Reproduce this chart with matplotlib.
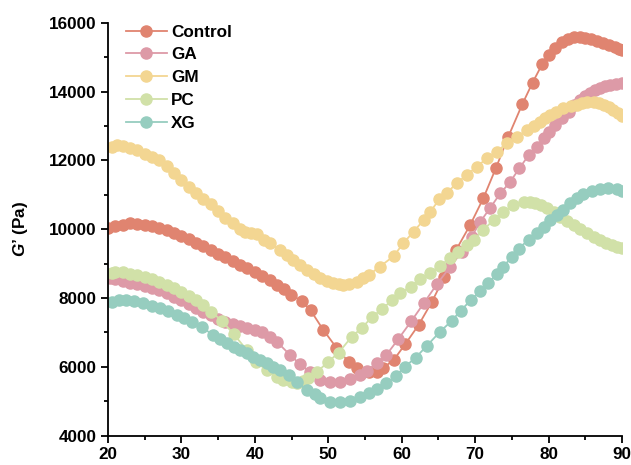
import matplotlib
matplotlib.use("Agg")
import matplotlib.pyplot as plt
from matplotlib.ticker import MultipleLocator

plt.rcParams['font.family'] = ['Liberation Sans', 'DejaVu Sans']
plt.rcParams['mathtext.fontset'] = 'custom'
plt.rcParams['mathtext.it'] = 'Liberation Sans:italic:bold'
plt.rcParams['mathtext.rm'] = 'Liberation Sans:bold'

labels = ["Control", "GA", "GM", "PC", "XG"]
colors = ["#E08470", "#DD9AA7", "#F3D692", "#D1E1A8", "#96CDBF"]

control_x = [20, 21, 22, 23, 24, 25, 26, 27, 28, 29, 30, 31, 32, 33, 34, 35, 36, 37, 38, 39, 40, 41, 42, 43, 44,
             44.9, 46.4, 47.6, 49.3, 51.1, 52.8, 53.9, 55.5, 56.6, 57.4, 58.9, 60.5, 62.3, 64.1, 65.8, 67.4,
             69.3, 71.1, 72.8, 74.5, 76.4, 77.8, 79.1, 80.0, 80.9, 81.8, 82.6, 83.4, 84.2, 85.0, 85.8, 86.6,
             87.4, 88.2, 89.0, 89.6, 90.0]
control_y = [10050, 10090, 10120, 10170, 10160, 10130, 10090, 10030, 9970, 9900, 9800, 9720, 9610, 9500, 9400,
             9290, 9180, 9070, 8960, 8870, 8760, 8650, 8530, 8390, 8250,
             8090, 7920, 7640, 7080, 6560, 6130, 5975, 5860, 5860, 5960, 6200, 6670, 7220, 7890, 8620, 9400,
             10120, 10900, 11770, 12690, 13630, 14260, 14790, 15060, 15260, 15450, 15540, 15580, 15590, 15570,
             15530, 15480, 15420, 15360, 15300, 15240, 15200]

ga_x = [20.3, 21, 22, 23, 24, 25, 26, 27, 28, 29, 30, 31, 32, 33, 34, 35, 36, 37, 38, 39, 40, 41, 42, 43,
        44.8, 46.1, 47.5, 48.9, 50.2, 51.6, 53, 54.3, 55.2, 56.6, 57.9, 59.5, 61.3, 63, 64.8, 66.6, 68.2,
        69.5, 70.7, 72, 73.4, 74.7, 76, 77.3, 78.4, 79.3, 80.1, 80.9, 81.8, 82.7, 83.5, 84.2, 84.9, 85.6,
        86.3, 87, 87.7, 88.4, 89.2, 90]
ga_y = [8590, 8560, 8510, 8450, 8400, 8350, 8290, 8220, 8150, 8040, 7940, 7830, 7700, 7600, 7500, 7390, 7300,
        7240, 7180, 7130, 7080, 7000, 6880, 6730,
        6345, 6090, 5850, 5630, 5570, 5570, 5640, 5760, 5890, 6100, 6345, 6800, 7330, 7850, 8410, 8910, 9350,
        9780, 10220, 10610, 11040, 11360, 11770, 12160, 12400, 12640, 12840, 13030, 13220, 13420, 13620,
        13760, 13870, 13970, 14040, 14100, 14150, 14190, 14220, 14240]

gm_x = [20.5, 21.2, 22, 23, 24, 25, 26, 27, 28, 29, 30, 31, 32, 33, 34, 35, 36, 37, 38, 38.7, 39.5, 40.3,
        41.2, 42.1, 43.4, 44.4, 45.2, 46.2, 47.1, 48, 48.9, 49.8, 50.7, 51.4, 52, 52.8, 53.9, 54.7, 55.5,
        57, 58.9, 60.2, 61.6, 63, 63.9, 65.1, 66.1, 67.5, 68.9, 70.2, 71.6, 72.9, 74.3, 75.7, 77, 78, 78.8,
        79.5, 80.2, 81, 82, 83, 83.8, 84.5, 85.2, 86.1, 86.8, 87.5, 88.2, 88.8, 89.4, 90]
gm_y = [12400, 12450, 12420, 12360, 12300, 12200, 12100, 12000, 11830, 11630, 11430, 11230, 11050, 10880,
        10720, 10520, 10330, 10180, 10000, 9930, 9900, 9850,
        9700, 9590, 9400, 9250, 9110, 8960, 8820, 8690, 8570, 8490, 8430, 8400, 8380, 8400, 8470, 8580, 8670,
        8910, 9220, 9590, 9930, 10270, 10510, 10870, 11040, 11350, 11580, 11820, 12060, 12250, 12500, 12690,
        12880, 13000, 13120, 13220, 13320, 13420, 13510, 13570, 13610, 13660, 13700, 13710, 13670, 13610,
        13540, 13460, 13380, 13290]

pc_x = [20.5, 21, 22, 23, 24, 25, 26, 27, 28, 29, 30, 31, 32, 33, 34.1, 35.5, 37.1, 38.9, 40.1, 41.6, 43,
        43.9, 45, 45.8, 46.5, 47.3, 48.5, 50, 51.4, 53.2, 54.6, 55.9, 57.3, 58.7, 59.8, 61.2, 62.5, 63.9,
        65.2, 66.6, 67.7, 68.9, 69.8, 71.1, 72.5, 73.8, 75.2, 76.6, 77.5, 78.2, 79, 79.8, 80.7, 81.6, 82.5,
        83.4, 84.3, 85.2, 86.1, 87, 87.8, 88.6, 89.3, 90]
pc_y = [8740, 8760, 8750, 8700, 8660, 8610, 8540, 8460, 8380, 8280, 8170, 8060, 7940, 7800, 7600, 7340, 6960,
        6490, 6150, 5910, 5715,
        5620, 5570, 5530, 5590, 5690, 5860, 6150, 6410, 6880, 7140, 7440, 7680, 7940, 8140, 8330, 8540, 8740,
        8940, 9160, 9350, 9540, 9690, 9980, 10270, 10510, 10700, 10800, 10790, 10770, 10700, 10610, 10490,
        10360, 10240, 10120, 10000, 9880, 9780, 9690, 9610, 9540, 9490, 9445]

xg_x = [20.5, 21.5, 22.5, 23.5, 24.8, 26, 27.1, 28.2, 29.4, 30.4, 31.4, 32.8, 34.3, 35.3, 36.2, 37.1, 38,
        38.9, 39.8, 40.7, 41.6, 42.5, 43.4, 44.6, 45.7, 47.1, 48.2, 48.9, 50.2, 51.6, 53, 54.3, 55.5, 56.6,
        57.9, 59.2, 60.4, 61.9, 63.4, 65.2, 66.8, 68, 69.4, 70.7, 71.8, 72.9, 73.8, 75, 75.9, 77.3, 78.4,
        79.3, 80.2, 81.1, 82, 82.9, 83.8, 84.7, 85.9, 87, 88.1, 89.3, 90]
xg_y = [7890, 7930, 7940, 7920, 7850, 7780, 7700, 7610, 7510, 7410, 7310, 7150, 6930, 6800, 6690, 6590, 6490,
        6400, 6300, 6200, 6100, 6000, 5910, 5760, 5570, 5330, 5210, 5090, 4990, 4990, 5020, 5130, 5230, 5350,
        5520, 5740, 6000, 6270, 6610, 7020, 7340, 7630, 7940, 8200, 8430, 8690, 8910, 9200, 9440, 9700, 9900,
        10070, 10270, 10410, 10560, 10750, 10900, 11020, 11120, 11160, 11190, 11170, 11120]

series = [(control_x, control_y), (ga_x, ga_y), (gm_x, gm_y), (pc_x, pc_y), (xg_x, xg_y)]

fig = plt.figure(figsize=(6.31, 4.65), dpi=100)
ax = fig.add_axes([0.171, 0.063, 0.815, 0.888])

for (xs, ys), lab, c in zip(series, labels, colors):
    ax.plot(xs, ys, '-o', color=c, mfc=c, mec=c, ms=8, lw=1.3, label=lab)

ax.set_xlim(20, 90)
ax.set_ylim(4000, 16000)
ax.xaxis.set_major_locator(MultipleLocator(10))
ax.xaxis.set_minor_locator(MultipleLocator(5))
ax.yaxis.set_major_locator(MultipleLocator(2000))
ax.yaxis.set_minor_locator(MultipleLocator(1000))

for s in ['top', 'right']:
    ax.spines[s].set_visible(False)
for s in ['left', 'bottom']:
    ax.spines[s].set_linewidth(1.3)

ax.tick_params(which='major', direction='out', length=5, width=1.3, labelsize=12.3, pad=3)
ax.tick_params(which='minor', direction='out', length=3, width=1.3)
for lbl in ax.get_xticklabels() + ax.get_yticklabels():
    lbl.set_fontweight('bold')

ax.set_ylabel(r"$G$’ (Pa)", fontsize=12.3, fontweight='bold', labelpad=14)

leg = ax.legend(loc='upper left', bbox_to_anchor=(0.015, 1.02), frameon=False,
                prop={'weight': 'bold', 'size': 12.3}, handlelength=2.4, handletextpad=0.25,
                labelspacing=0.45, borderaxespad=0.2)

fig.savefig("out.png", dpi=100)
